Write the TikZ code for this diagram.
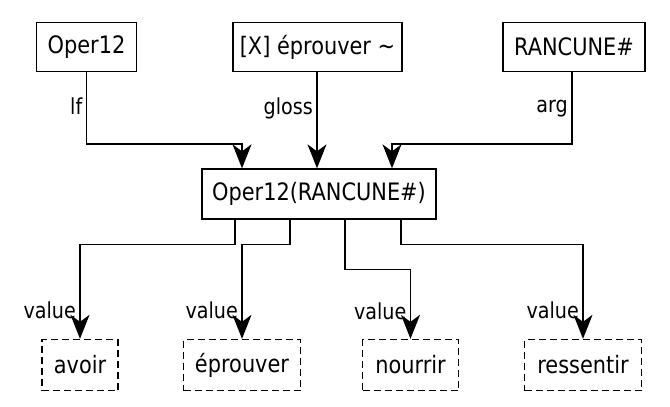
\documentclass[tikz,border=0pt]{standalone}
\usepackage{fontspec}
\setmainfont{DejaVu Sans}[FakeStretch=0.87]
\usetikzlibrary{arrows.meta}
\begin{document}
\begin{tikzpicture}[x=1pt,y=-1pt,
  box/.style={draw,line width=1.3pt,minimum height=49pt,inner sep=0pt,font=\fontsize{24}{28}\selectfont},
  valbox/.style={box,dashed,dash pattern=on 7pt off 4pt,minimum height=51pt},
  link/.style={line width=1.4pt,-{Stealth[length=24pt,width=19pt,inset=7pt]}},
  lbl/.style={font=\fontsize{22}{26}\selectfont,inner sep=3.5pt}]
\useasboundingbox (0,0) rectangle (670,407);
\node[box,minimum width=100pt] (oper) at (86.5,47) {Oper12};
\node[box,minimum width=169pt] (gloss) at (317.5,47) {[X] éprouver \~{}};
\node[box,minimum width=142pt] (rancune) at (574,47) {RANCUNE\#};
\node[box,minimum width=234pt,minimum height=50pt] (lf) at (319,194) {Oper12(RANCUNE\#)};
\node[valbox,minimum width=76pt] (avoir) at (80,365) {avoir};
\node[valbox,minimum width=117pt] (eprouver) at (242,365) {éprouver};
\node[valbox,minimum width=96pt] (nourrir) at (410.5,365) {nourrir};
\node[valbox,minimum width=117pt] (ressentir) at (583,365) {ressentir};
% incoming
\draw[link] (oper.south) -- node[lbl,left,pos=0.47]{lf} ++(0,72) -| ([xshift=-77pt]lf.north);
\draw[link] ([xshift=-0.5pt]gloss.south) -- node[lbl,left,pos=0.38]{gloss} ([xshift=-2pt]lf.north);
\draw[link] ([xshift=-2pt]rancune.south) -- node[lbl,left,pos=0.51]{arg} ++(0,72) -| ([xshift=73pt]lf.north);
% values
\draw[link] ([xshift=-84pt]lf.south) -- ++(0,25) -| node[lbl,left,pos=0.85]{value} (avoir.north);
\draw[link] ([xshift=-29pt]lf.south) -- ++(0,25) -| node[lbl,left,pos=0.85]{value} (eprouver.north);
\draw[link] ([xshift=26pt]lf.south) -- ++(0,50) -| node[lbl,left,pos=0.8]{value} (nourrir.north);
\draw[link] ([xshift=82pt]lf.south) -- ++(0,25) -| node[lbl,left,pos=0.85]{value} (ressentir.north);
\end{tikzpicture}
\end{document}
